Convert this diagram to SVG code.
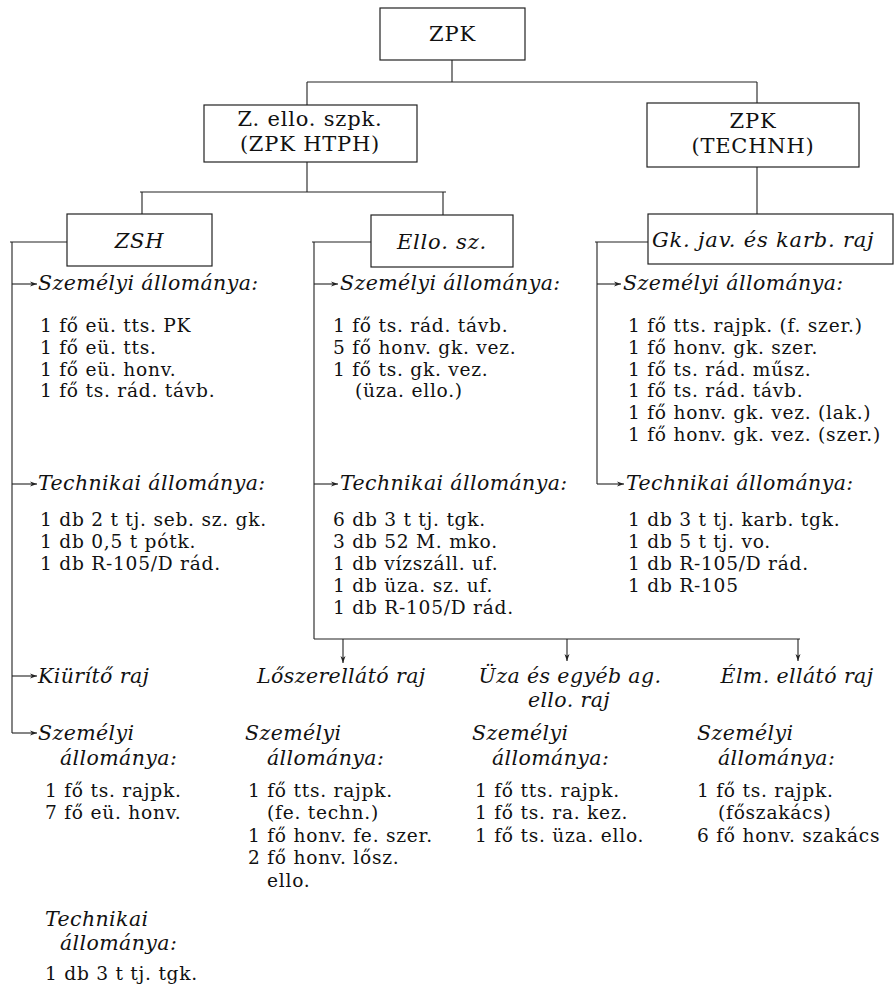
<svg xmlns="http://www.w3.org/2000/svg" width="896" height="989" viewBox="0 0 896 989">
<style>
.bx{fill:none;stroke:#222;stroke-width:1.2}
.c{fill:none;stroke:#222;stroke-width:1.1}
.a{fill:none;stroke:#222;stroke-width:1.1;marker-end:url(#ar)}
text{font-family:"DejaVu Serif","Liberation Serif",serif;font-size:18.6px;letter-spacing:0.75px;fill:#111}
.i{font-style:italic;font-size:20.5px;letter-spacing:0.4px}
.L{font-size:21px;letter-spacing:0.8px}
.m{text-anchor:middle}
</style>
<defs>
<marker id="ar" markerWidth="8" markerHeight="6" refX="7" refY="3" orient="auto" markerUnits="userSpaceOnUse"><path d="M0,0.5 L7,3 L0,5.5 L2,3 Z" fill="#222"/></marker>
</defs>
<rect width="896" height="989" fill="#fff"/>
<g id="connectors">
<path class="c" d="M452,60 V82 M307,82 H757 M307,82 V105 M757,82 V103"/>
<path class="c" d="M307,162 V192 M140,192 H446 M142,192 V214 M443,192 V215 M757,167 V214"/>
<path class="c" d="M10,242 H67 M12,242 V733"/>
<path class="a" d="M12,284 H37"/>
<path class="a" d="M12,484 H37"/>
<path class="a" d="M12,676 H37"/>
<path class="a" d="M12,733 H37"/>
<path class="c" d="M312,242 H371 M314,242 V639 M314,639 H800"/>
<path class="a" d="M314,284 H338"/>
<path class="a" d="M314,484 H338"/>
<path class="a" d="M343,639 V663"/>
<path class="a" d="M567,639 V661"/>
<path class="a" d="M798,639 V661"/>
<path class="c" d="M595,242 H648 M597,242 V484"/>
<path class="a" d="M597,284 H621"/>
<path class="a" d="M597,484 H624"/>
</g>
<g id="zpk"><rect class="bx" x="380" y="8" width="145" height="52"/><text class="L m" x="452.5" y="41">ZPK</text></g>
<g id="zello"><rect class="bx" x="204" y="105" width="213" height="57"/><text class="L m" x="310" y="126">Z. ello. szpk.</text><text class="L m" x="310" y="150.5">(ZPK HTPH)</text></g>
<g id="technh"><rect class="bx" x="647" y="103" width="212" height="64"/><text class="L m" x="753" y="128">ZPK</text><text class="L m" x="753" y="152.5">(TECHNH)</text></g>
<g id="zsh"><rect class="bx" x="67" y="214" width="145" height="52"/><text class="i L m" x="139.5" y="248">ZSH</text></g>
<g id="ello"><rect class="bx" x="371" y="215" width="142" height="52"/><text class="i L m" x="442" y="249">Ello. sz.</text></g>
<g id="gk"><rect class="bx" x="648" y="214" width="245" height="50"/><text class="i L" x="652" y="247">Gk. jav. és karb. raj</text></g>
<g id="zsh-szem"><text class="i" x="38" y="290">Személyi állománya:</text><text x="40" y="332">1 fő eü. tts. PK</text><text x="40" y="354">1 fő eü. tts.</text><text x="40" y="376">1 fő eü. honv.</text><text x="40" y="397">1 fő ts. rád. távb.</text></g>
<g id="zsh-tech"><text class="i" x="38" y="490">Technikai állománya:</text><text x="40" y="526">1 db 2 t tj. seb. sz. gk.</text><text x="40" y="548">1 db 0,5 t pótk.</text><text x="40" y="570">1 db R-105/D rád.</text></g>
<g id="ello-szem"><text class="i" x="340" y="290">Személyi állománya:</text><text x="333" y="332">1 fő ts. rád. távb.</text><text x="333" y="354">5 fő honv. gk. vez.</text><text x="333" y="376">1 fő ts. gk. vez.</text><text x="355" y="397">(üza. ello.)</text></g>
<g id="ello-tech"><text class="i" x="340" y="490">Technikai állománya:</text><text x="333" y="526">6 db 3 t tj. tgk.</text><text x="333" y="548">3 db 52 M. mko.</text><text x="333" y="570">1 db vízszáll. uf.</text><text x="333" y="592">1 db üza. sz. uf.</text><text x="333" y="614">1 db R-105/D rád.</text></g>
<g id="gk-szem"><text class="i" x="623" y="290">Személyi állománya:</text><text x="628" y="332">1 fő tts. rajpk. (f. szer.)</text><text x="628" y="354">1 fő honv. gk. szer.</text><text x="628" y="376">1 fő ts. rád. műsz.</text><text x="628" y="397">1 fő ts. rád. távb.</text><text x="628" y="419">1 fő honv. gk. vez. (lak.)</text><text x="628" y="441">1 fő honv. gk. vez. (szer.)</text></g>
<g id="gk-tech"><text class="i" x="626" y="490">Technikai állománya:</text><text x="628" y="526">1 db 3 t tj. karb. tgk.</text><text x="628" y="548">1 db 5 t tj. vo.</text><text x="628" y="570">1 db R-105/D rád.</text><text x="628" y="592">1 db R-105</text></g>
<g id="kiurito"><text class="i" x="38" y="683">Kiürítő raj</text><text class="i" x="38" y="740">Személyi</text><text class="i" x="60" y="765">állománya:</text><text x="45" y="797">1 fő ts. rajpk.</text><text x="45" y="819">7 fő eü. honv.</text><text class="i" x="45" y="926">Technikai</text><text class="i" x="60" y="950">állománya:</text><text x="45" y="980">1 db 3 t tj. tgk.</text></g>
<g id="loszer"><text class="i" x="257" y="683">Lőszerellátó raj</text><text class="i" x="245" y="740">Személyi</text><text class="i" x="267" y="765">állománya:</text><text x="248" y="797">1 fő tts. rajpk.</text><text x="267" y="819">(fe. techn.)</text><text x="248" y="842">1 fő honv. fe. szer.</text><text x="248" y="864">2 fő honv. lősz.</text><text x="267" y="887">ello.</text></g>
<g id="uza"><text class="i m" x="570" y="683">Üza és egyéb ag.</text><text class="i m" x="569" y="707">ello. raj</text><text class="i" x="472" y="740">Személyi</text><text class="i" x="492" y="765">állománya:</text><text x="475" y="797">1 fő tts. rajpk.</text><text x="475" y="819">1 fő ts. ra. kez.</text><text x="475" y="842">1 fő ts. üza. ello.</text></g>
<g id="elm"><text class="i m" x="797" y="683">Élm. ellátó raj</text><text class="i" x="697" y="740">Személyi</text><text class="i" x="718" y="765">állománya:</text><text x="697" y="797">1 fő ts. rajpk.</text><text x="718" y="819">(főszakács)</text><text x="697" y="842">6 fő honv. szakács</text></g>
</svg>
